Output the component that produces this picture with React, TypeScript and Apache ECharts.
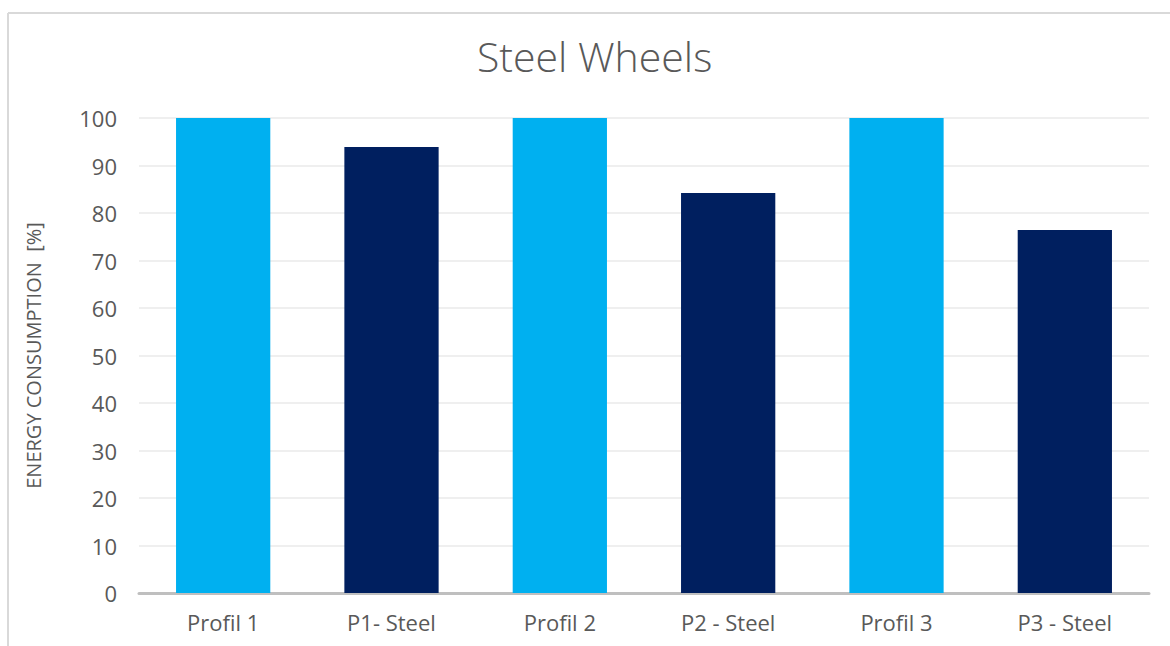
import React, { useEffect, useRef } from "react";
import * as echarts from "echarts";

const categories = ["Profil 1", "P1- Steel", "Profil 2", "P2 - Steel", "Profil 3", "P3 - Steel"];
const values = [100, 93.9, 100, 84.2, 100, 76.4];
const barColors = ["#00B0F0", "#001F5F", "#00B0F0", "#001F5F", "#00B0F0", "#001F5F"];
const titleText = "Steel Wheels";
const yAxisName = "ENERGY CONSUMPTION  [%]";

export default function App() {
  const ref = useRef<HTMLDivElement>(null);
  useEffect(() => {
    document.body.style.margin = "0";
    const chart = echarts.init(ref.current!, undefined, { renderer: "svg" });
    const font = "'Open Sans', 'Noto Sans', sans-serif";
    chart.setOption({
      animation: false,
      backgroundColor: "#FFFFFF",
      title: {
        text: titleText,
        left: 472,
        top: 30,
        textStyle: { fontFamily: font, fontSize: 41, fontWeight: 300, color: "#595959" },
      },
      graphic: [
        { type: "line", shape: { x1: 8, y1: 13, x2: 1170, y2: 13 }, style: { stroke: "#D9D9D9", lineWidth: 2 } },
        { type: "line", shape: { x1: 8, y1: 13, x2: 8, y2: 646 }, style: { stroke: "#D9D9D9", lineWidth: 2 } },
      ],
      grid: { left: 139, right: 21, top: 118, bottom: 53 },
      xAxis: {
        type: "category",
        data: categories,
        axisLine: { show: true, lineStyle: { color: "#BFBFBF", width: 3 } },
        axisTick: { show: false },
        axisLabel: { fontFamily: font, fontSize: 22, color: "#595959", margin: 18 },
      },
      yAxis: {
        type: "value",
        min: 0,
        max: 100,
        interval: 10,
        name: yAxisName,
        nameLocation: "middle",
        nameGap: 96,
        nameTextStyle: { fontFamily: font, fontSize: 20, color: "#595959" },
        axisLine: { show: false },
        axisTick: { show: false },
        axisLabel: { fontFamily: font, fontSize: 22, color: "#595959", margin: 22 },
        splitLine: { lineStyle: { color: "#EFEFEF", width: 2 } },
      },
      series: [
        {
          type: "bar",
          data: values.map((v, i) => ({ value: v, itemStyle: { color: barColors[i] } })),
          barWidth: "56%",
        },
      ],
    });
    return () => chart.dispose();
  }, []);
  return <div ref={ref} style={{ width: 1170, height: 646 }} />;
}
